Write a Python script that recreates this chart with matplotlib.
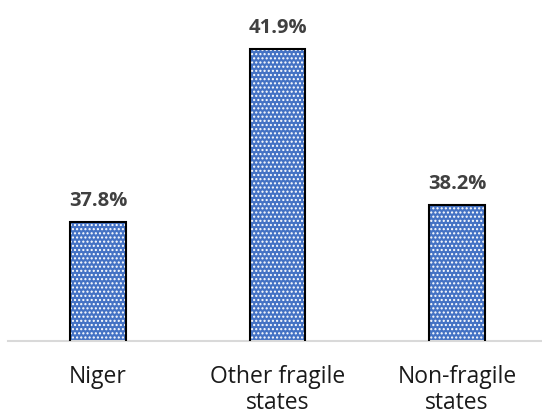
import matplotlib
matplotlib.use("Agg")
import matplotlib.pyplot as plt

categories = ["Niger", "Other fragile\nstates", "Non-fragile\nstates"]
values = [37.8, 41.9, 38.2]
labels = ["37.8%", "41.9%", "38.2%"]

plt.rcParams['font.family'] = ['Open Sans', 'DejaVu Sans']

fig = plt.figure(figsize=(5.42, 4.16), dpi=100)
ax = fig.add_axes([8.25/542, (416-341)/416, 538.5/542, 339/416])
x = list(range(len(categories)))
ax.bar(x, values, width=0.31, color="#4472C4", edgecolor="white",
       hatch="....", linewidth=0, zorder=2)
ax.bar(x, values, width=0.31, facecolor="none", edgecolor="black",
       linewidth=1.5, zorder=3)
ax.set_ylim(35, 43)
ax.set_xlim(-0.5, 2.5)
for xi, v, l in zip(x, values, labels):
    ax.annotate(l, (xi, v), xytext=(0, 8), textcoords="offset points",
                ha="center", va="bottom", fontsize=14.5, fontweight="bold",
                color="#404040")
ax.set_xticks(x)
ax.set_xticklabels(categories, fontsize=16.5, color="#1a1a1a", linespacing=1.15)
ax.tick_params(axis="x", length=0, pad=17)
ax.set_yticks([])
for s in ["top", "right", "left"]:
    ax.spines[s].set_visible(False)
ax.spines["bottom"].set_color("#d9d9d9")
ax.spines["bottom"].set_linewidth(1.5)
fig.savefig("out.png", dpi=100)
